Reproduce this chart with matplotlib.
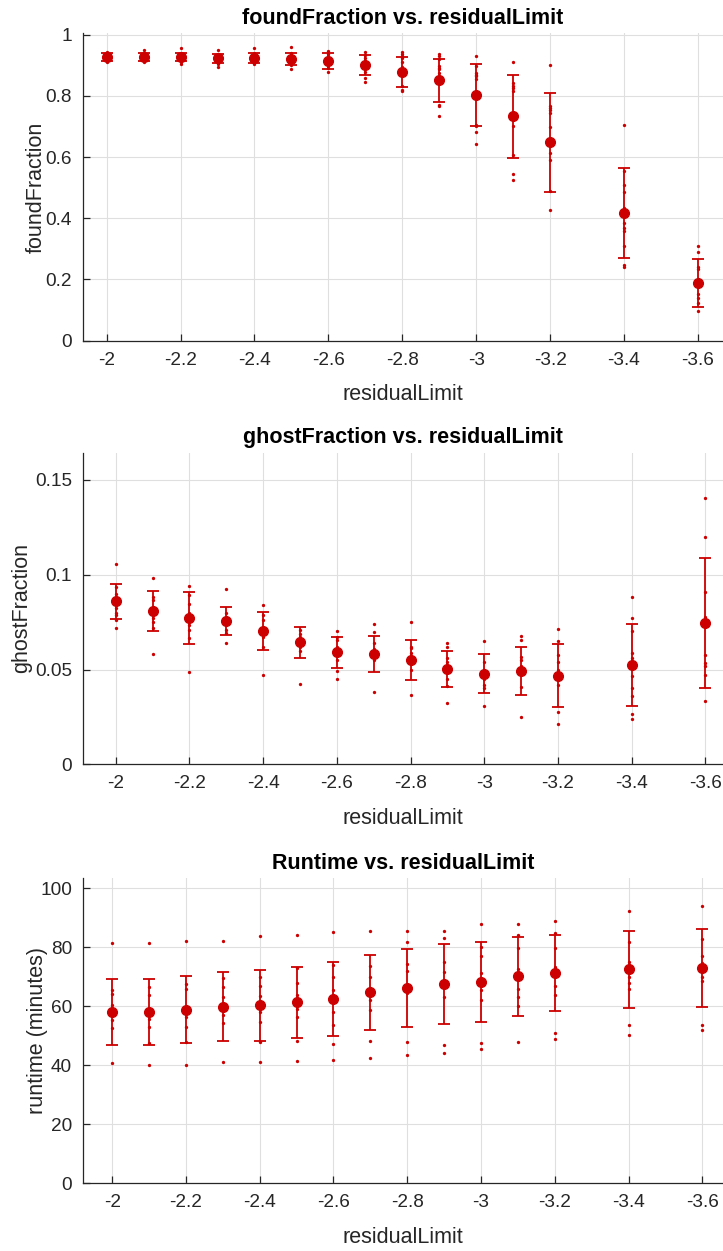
import matplotlib
matplotlib.use("Agg")
import matplotlib.pyplot as plt
from matplotlib.ticker import FuncFormatter

plt.rcParams['font.family'] = ['Liberation Sans', 'DejaVu Sans']
plt.rcParams['axes.unicode_minus'] = False

# ---------------- data ----------------
residual_limit = [-2.0, -2.1, -2.2, -2.3, -2.4, -2.5, -2.6, -2.7, -2.8, -2.9, -3.0, -3.1, -3.2, -3.4, -3.6]

found_runs = [
    [0.945, 0.938, 0.934, 0.930, 0.928, 0.926, 0.924, 0.920, 0.916, 0.911],
    [0.950, 0.942, 0.936, 0.931, 0.928, 0.925, 0.922, 0.918, 0.914, 0.910],
    [0.958, 0.940, 0.935, 0.930, 0.927, 0.925, 0.921, 0.917, 0.912, 0.906],
    [0.949, 0.938, 0.932, 0.927, 0.924, 0.920, 0.916, 0.912, 0.905, 0.896],
    [0.957, 0.940, 0.933, 0.928, 0.924, 0.921, 0.917, 0.913, 0.909, 0.905],
    [0.961, 0.940, 0.932, 0.926, 0.921, 0.917, 0.912, 0.906, 0.900, 0.889],
    [0.947, 0.938, 0.930, 0.922, 0.917, 0.912, 0.906, 0.898, 0.890, 0.880],
    [0.945, 0.935, 0.925, 0.915, 0.905, 0.898, 0.890, 0.880, 0.860, 0.847],
    [0.945, 0.938, 0.931, 0.925, 0.912, 0.895, 0.870, 0.832, 0.821, 0.816],
    [0.936, 0.931, 0.922, 0.898, 0.892, 0.887, 0.876, 0.772, 0.767, 0.735],
    [0.931, 0.898, 0.876, 0.870, 0.865, 0.854, 0.706, 0.701, 0.681, 0.644],
    [0.912, 0.843, 0.832, 0.827, 0.816, 0.720, 0.701, 0.608, 0.545, 0.525],
    [0.900, 0.767, 0.761, 0.753, 0.745, 0.700, 0.614, 0.592, 0.488, 0.426],
    [0.706, 0.553, 0.510, 0.485, 0.433, 0.384, 0.368, 0.357, 0.310, 0.248, 0.240],
    [0.310, 0.291, 0.242, 0.233, 0.200, 0.180, 0.152, 0.138, 0.122, 0.098],
]
found_mean = [0.927, 0.927, 0.927, 0.923, 0.923, 0.920, 0.914, 0.900, 0.879, 0.851, 0.804, 0.733, 0.648, 0.416, 0.188]
found_std = [0.012, 0.013, 0.014, 0.015, 0.016, 0.020, 0.026, 0.033, 0.050, 0.071, 0.101, 0.135, 0.163, 0.147, 0.077]

ghost_runs = [
    [0.1059, 0.0937, 0.0900, 0.0870, 0.0841, 0.0823, 0.0800, 0.0788, 0.0760, 0.0719],
    [0.0983, 0.0884, 0.0867, 0.0832, 0.0810, 0.0788, 0.0770, 0.0752, 0.0720, 0.0580],
    [0.0943, 0.0893, 0.0844, 0.0800, 0.0770, 0.0735, 0.0709, 0.0665, 0.0485],
    [0.0925, 0.0797, 0.0779, 0.0760, 0.0740, 0.0709, 0.0694, 0.0638],
    [0.0842, 0.0788, 0.0761, 0.0720, 0.0700, 0.0673, 0.0621, 0.0473],
    [0.0710, 0.0690, 0.0670, 0.0660, 0.0650, 0.0640, 0.0620, 0.0600, 0.0425],
    [0.0702, 0.0673, 0.0656, 0.0620, 0.0603, 0.0580, 0.0550, 0.0492, 0.0448],
    [0.0739, 0.0697, 0.0638, 0.0610, 0.0586, 0.0570, 0.0550, 0.0382],
    [0.0749, 0.0621, 0.0612, 0.0586, 0.0560, 0.0530, 0.0498, 0.0366],
    [0.0640, 0.0617, 0.0559, 0.0541, 0.0500, 0.0448, 0.0413, 0.0325],
    [0.0651, 0.0541, 0.0498, 0.0470, 0.0450, 0.0418, 0.0401, 0.0309],
    [0.0675, 0.0656, 0.0568, 0.0550, 0.0520, 0.0480, 0.0410, 0.0251],
    [0.0714, 0.0652, 0.0577, 0.0541, 0.0498, 0.0460, 0.0418, 0.0278, 0.0214],
    [0.0881, 0.0770, 0.0705, 0.0589, 0.0559, 0.0466, 0.0401, 0.0360, 0.0264, 0.0241],
    [0.1405, 0.1199, 0.0911, 0.0779, 0.0726, 0.0577, 0.0533, 0.0519, 0.0470, 0.0336],
]
ghost_mean = [0.0860, 0.0809, 0.0772, 0.0756, 0.0703, 0.0644, 0.0591, 0.0582, 0.0552, 0.0505, 0.0478, 0.0492, 0.0468, 0.0524, 0.0746]
ghost_std = [0.0092, 0.0106, 0.0139, 0.0075, 0.0101, 0.0081, 0.0081, 0.0096, 0.0106, 0.0095, 0.0104, 0.0129, 0.0166, 0.0216, 0.0341]

runtime_runs = [
    [81.6, 65.5, 64.1, 60.4, 58.0, 57.0, 55.4, 52.7, 40.8],
    [81.4, 66.4, 63.9, 59.0, 57.0, 55.6, 53.1, 47.7, 40.1],
    [82.1, 67.6, 65.8, 60.0, 58.0, 56.5, 53.1, 48.0, 40.1],
    [82.1, 69.5, 66.6, 63.3, 60.0, 58.5, 57.1, 54.2, 41.2],
    [83.8, 70.0, 66.9, 63.5, 60.0, 58.2, 54.8, 48.0, 41.2],
    [84.3, 72.9, 68.0, 63.8, 61.0, 59.0, 56.5, 48.3, 41.3],
    [85.2, 74.0, 70.0, 65.5, 62.0, 58.2, 53.7, 47.1, 41.8],
    [85.6, 73.7, 70.0, 66.1, 64.0, 62.0, 58.7, 48.2, 42.5],
    [85.6, 81.8, 74.3, 72.0, 67.0, 64.9, 64.4, 48.0, 43.5],
    [85.6, 83.1, 75.1, 71.7, 69.0, 67.8, 63.1, 46.8, 44.3],
    [88.0, 80.0, 77.2, 71.2, 68.0, 65.5, 62.0, 47.4, 45.4],
    [88.0, 84.3, 79.7, 72.5, 69.5, 66.0, 63.0, 60.0, 48.0],
    [89.0, 84.7, 79.7, 73.4, 70.6, 67.0, 64.0, 50.8, 49.0],
    [92.2, 81.9, 75.0, 72.0, 70.0, 68.0, 66.0, 53.5, 50.4],
    [94.1, 82.8, 77.0, 74.6, 72.0, 70.0, 68.6, 53.5, 52.0],
]
runtime_mean = [58.2, 58.1, 58.9, 59.9, 60.3, 61.4, 62.6, 64.7, 66.2, 67.5, 68.3, 70.2, 71.2, 72.5, 73.1]
runtime_std = [11.2, 11.2, 11.4, 11.6, 11.9, 12.0, 12.5, 12.8, 13.2, 13.5, 13.6, 13.4, 12.9, 13.0, 13.2]

x_ticks = [-2.0, -2.2, -2.4, -2.6, -2.8, -3.0, -3.2, -3.4, -3.6]

# ---------------- plot ----------------
RED = '#CC0000'
AXC = '#262626'
GRID = '#dfdfdf'

W, H = 723, 1251
fig = plt.figure(figsize=(W / 100, H / 100), dpi=100)


def px_axes(top_px, bottom_px, left_px=83, right_px=723):
    return [left_px / W, 1 - bottom_px / H, (right_px - left_px) / W, (bottom_px - top_px) / H]


panels = [
    dict(pos=px_axes(33.3, 340.5), runs=found_runs, mean=found_mean, std=found_std,
         xlim=(-1.936, -3.668), ylim=(0, 1.005), yticks=[0, 0.2, 0.4, 0.6, 0.8, 1.0],
         ylabel='foundFraction', title='foundFraction vs. residualLimit', ypad=-1),
    dict(pos=px_axes(452.7, 764.3), runs=ghost_runs, mean=ghost_mean, std=ghost_std,
         xlim=(-1.911, -3.648), ylim=(0, 0.1644), yticks=[0, 0.05, 0.1, 0.15],
         ylabel='ghostFraction', title='ghostFraction vs. residualLimit', ypad=2),
    dict(pos=px_axes(878.3, 1183.3), runs=runtime_runs, mean=runtime_mean, std=runtime_std,
         xlim=(-1.921, -3.656), ylim=(0, 103.4), yticks=[0, 20, 40, 60, 80, 100],
         ylabel='runtime (minutes)', title='Runtime vs. residualLimit', ypad=-6),
]

fmt = FuncFormatter(lambda v, p: ('%g' % round(v, 4)))

for pnl in panels:
    ax = fig.add_axes(pnl['pos'])
    for xv, vals in zip(residual_limit, pnl['runs']):
        ax.plot([xv] * len(vals), vals, linestyle='none', marker='o', ms=2.4,
                mec='none', mfc=RED, zorder=3, clip_on=False)
    ax.errorbar(residual_limit, pnl['mean'], yerr=pnl['std'], fmt='none',
                ecolor=RED, elinewidth=1.3, capsize=4.6, capthick=1.3, zorder=4)
    ax.plot(residual_limit, pnl['mean'], linestyle='none', marker='o', ms=7,
            mec=RED, mfc=RED, zorder=5)
    ax.set_xlim(*pnl['xlim'])
    ax.set_ylim(*pnl['ylim'])
    ax.set_xticks(x_ticks)
    ax.set_yticks(pnl['yticks'])
    ax.xaxis.set_major_formatter(fmt)
    ax.yaxis.set_major_formatter(fmt)
    ax.grid(True, color=GRID, linewidth=0.8)
    ax.set_axisbelow(True)
    for s in ['top', 'right']:
        ax.spines[s].set_visible(False)
    for s in ['left', 'bottom']:
        ax.spines[s].set_color(AXC)
        ax.spines[s].set_linewidth(0.9)
    ax.tick_params(direction='in', length=5, width=0.9, color=AXC,
                   labelcolor=AXC, labelsize=13.7, pad=8)
    ax.set_xlabel('residualLimit', fontsize=15.5, color=AXC, labelpad=11)
    ax.set_ylabel(pnl['ylabel'], fontsize=15.5, color=AXC, labelpad=pnl['ypad'])
    ax.set_title(pnl['title'], fontsize=15.5, fontweight='bold', color='black', pad=7)

fig.savefig('out.png', dpi=100)
